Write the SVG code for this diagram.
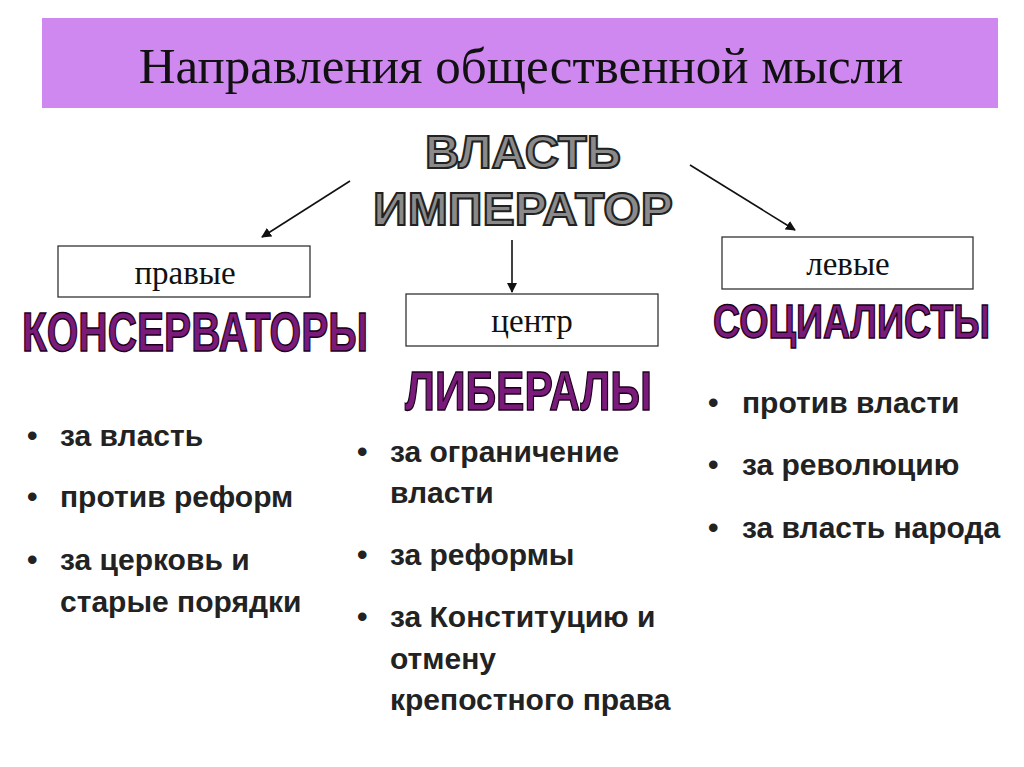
<svg xmlns="http://www.w3.org/2000/svg" width="1024" height="767" viewBox="0 0 1024 767">
<style>
.box{fill:#fff;stroke:#333;stroke-width:1.3}
.bt{font-family:"Liberation Serif",serif;font-size:33px;fill:#111;text-anchor:middle}
.big{font-family:"Liberation Sans",Arial,sans-serif;font-weight:bold;fill:#7a1a7a;stroke:#1a001a;stroke-width:1.5}
.gray{font-family:"Liberation Sans",Arial,sans-serif;font-weight:bold;font-size:46px;fill:#8a8a8a;stroke:#222;stroke-width:2;text-anchor:middle}
.li{font-family:"Liberation Sans",Arial,sans-serif;font-weight:bold;font-size:30px;fill:#222}
.con{stroke:#111;stroke-width:1.6;fill:none;marker-end:url(#ah)}
</style>
<defs>
<marker id="ah" markerWidth="10" markerHeight="10" refX="9" refY="5" orient="auto" markerUnits="userSpaceOnUse"><path d="M0,0 L10,5 L0,10 z" fill="#111"/></marker>
</defs>
<rect width="1024" height="767" fill="#fff"/>
<g id="title">
<rect x="42" y="18" width="956" height="90" fill="#cf88ef"/>
<text x="521" y="83" font-family="Liberation Serif,serif" font-size="51" fill="#111" text-anchor="middle">Направления общественной мысли</text>
</g>
<g id="vlast">
<text class="gray" x="523" y="168" textLength="196" lengthAdjust="spacingAndGlyphs">ВЛАСТЬ</text>
<text class="gray" x="523" y="225" textLength="300" lengthAdjust="spacingAndGlyphs">ИМПЕРАТОР</text>
</g>
<g id="connectors">
<line class="con" x1="350" y1="181" x2="262" y2="237"/>
<line class="con" x1="512" y1="240" x2="512" y2="292"/>
<line class="con" x1="690" y1="165" x2="795" y2="230"/>
</g>
<g id="right">
<rect class="box" x="58" y="246" width="252" height="51"/>
<text class="bt" x="185" y="284">правые</text>
<text class="big" x="22" y="351" font-size="56" textLength="346" lengthAdjust="spacingAndGlyphs">КОНСЕРВАТОРЫ</text>
<g class="li">
<text x="27" y="446">•</text><text x="60" y="446">за власть</text>
<text x="27" y="507">•</text><text x="60" y="507">против реформ</text>
<text x="27" y="570">•</text><text x="60" y="570">за церковь и</text>
<text x="60" y="612">старые порядки</text>
</g>
</g>
<g id="center">
<rect class="box" x="406" y="294" width="252" height="52"/>
<text class="bt" x="532" y="332">центр</text>
<text class="big" x="405" y="410" font-size="56" textLength="247" lengthAdjust="spacingAndGlyphs">ЛИБЕРАЛЫ</text>
<g class="li">
<text x="357" y="462">•</text><text x="390" y="462">за ограничение</text>
<text x="390" y="503">власти</text>
<text x="357" y="565">•</text><text x="390" y="565">за реформы</text>
<text x="357" y="627">•</text><text x="390" y="627">за Конституцию и</text>
<text x="390" y="669">отмену</text>
<text x="390" y="710">крепостного права</text>
</g>
</g>
<g id="left">
<rect class="box" x="722" y="237" width="251" height="52"/>
<text class="bt" x="848" y="275">левые</text>
<text class="big" x="713" y="338" font-size="48" textLength="277" lengthAdjust="spacingAndGlyphs">СОЦИАЛИСТЫ</text>
<g class="li">
<text x="708" y="413">•</text><text x="742" y="413">против власти</text>
<text x="708" y="475">•</text><text x="742" y="475">за революцию</text>
<text x="708" y="538">•</text><text x="742" y="538">за власть народа</text>
</g>
</g>
</svg>
